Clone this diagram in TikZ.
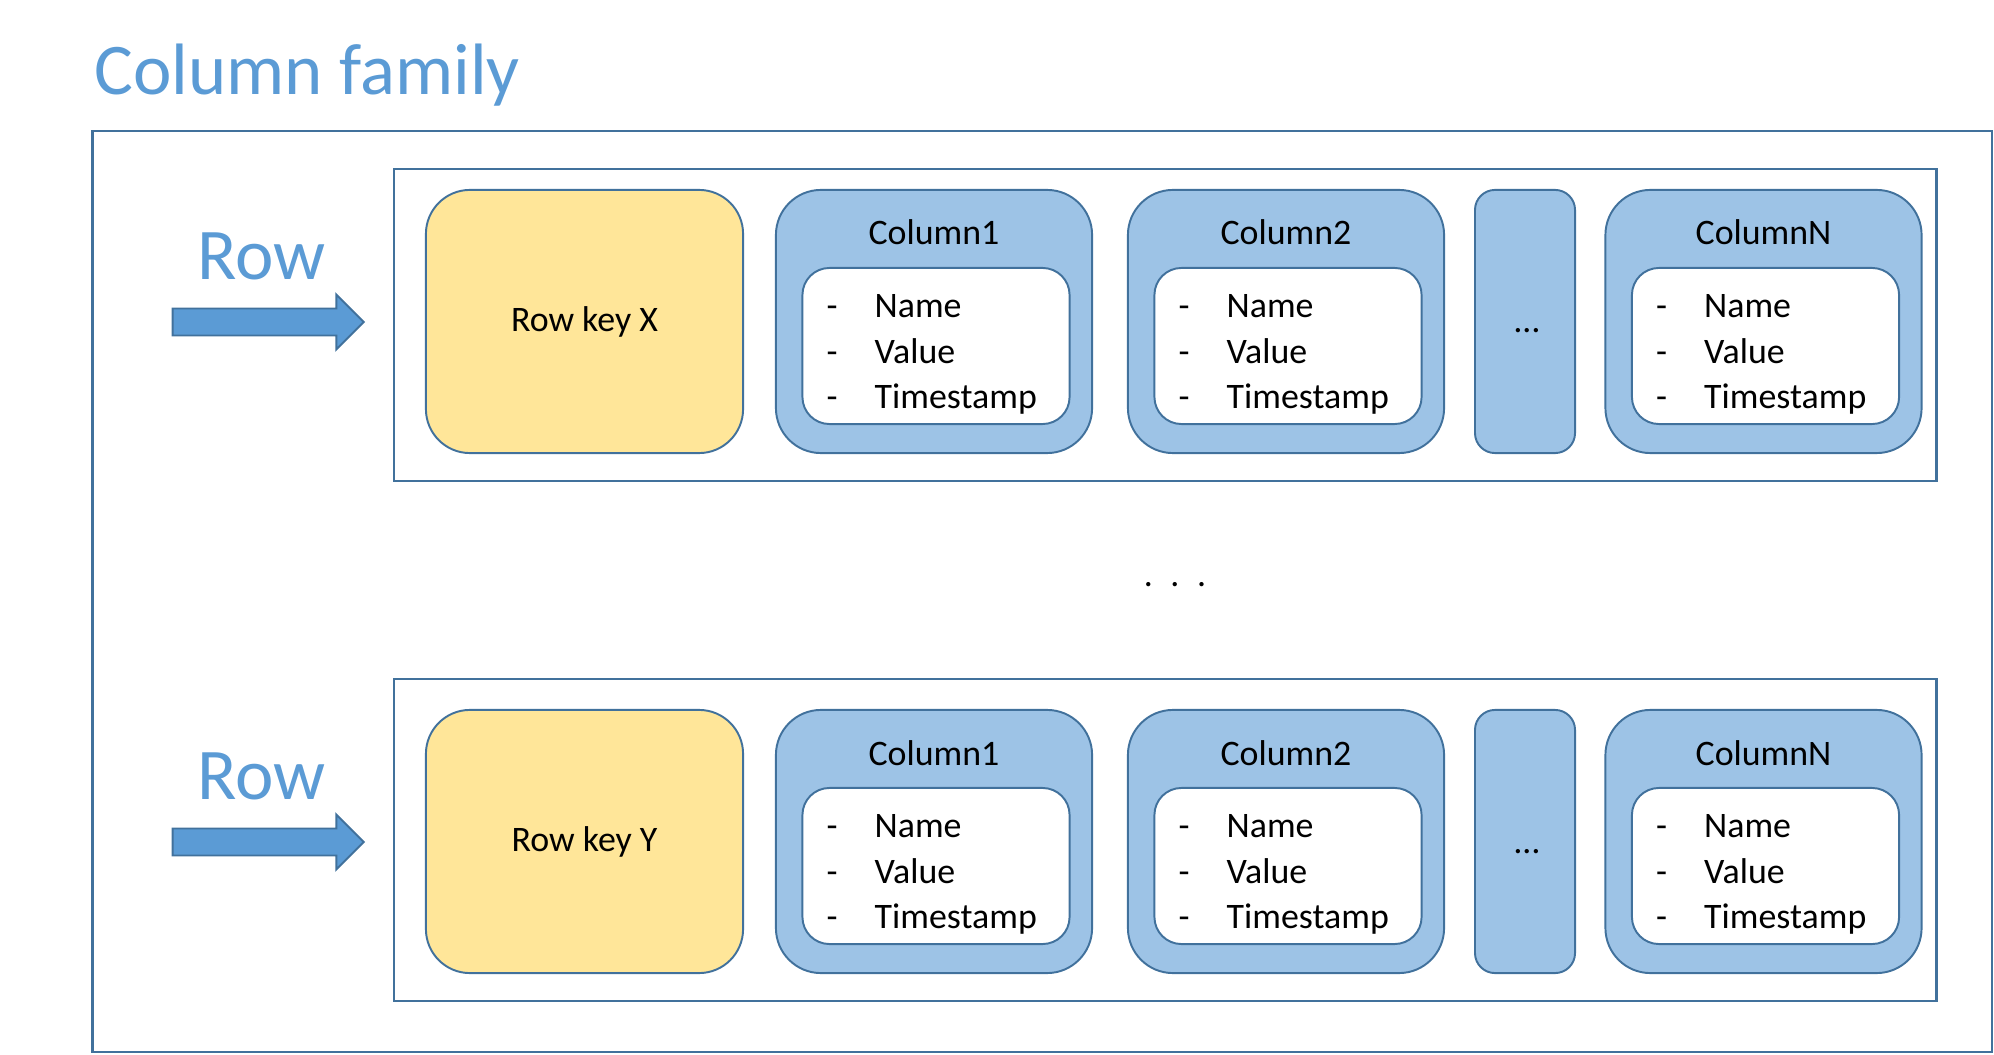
\documentclass[tikz,border=0pt]{standalone}
\usepackage{fontspec}
\setmainfont{Carlito}
\usepackage{tikz}
\usetikzlibrary{positioning,shapes.arrows,calc}

\definecolor{edge}{RGB}{65,113,156}
\definecolor{keyfill}{RGB}{255,230,153}
\definecolor{colfill}{RGB}{157,195,230}
\definecolor{arrfill}{RGB}{91,155,213}
\definecolor{lblblue}{RGB}{91,155,213}

\newcommand{\cellitems}{\makebox[0.48cm][l]{-}Name\\
  \makebox[0.48cm][l]{-}Value\\
  \makebox[0.48cm][l]{-}Timestamp}

\begin{document}
\begin{tikzpicture}[
  x=0.01cm, y=-0.01cm,
  every node/.style={font=\fontsize{10.2}{12.9}\selectfont},
  cfframe/.style  ={draw=edge, line width=0.6pt, minimum width=18.98cm,
                    minimum height=9.21cm, inner sep=0},
  rowframe/.style ={draw=edge, line width=0.6pt, minimum width=15.42cm,
                    inner sep=0},
  keybox/.style   ={draw=edge, line width=0.55pt, fill=keyfill,
                    rounded corners=0.44cm, minimum width=3.17cm,
                    minimum height=2.63cm, inner sep=0},
  colbox/.style   ={draw=edge, line width=0.55pt, fill=colfill,
                    rounded corners=0.45cm, minimum width=3.16cm,
                    minimum height=2.63cm, inner sep=0},
  gapbox/.style   ={draw=edge, line width=0.55pt, fill=colfill,
                    rounded corners=0.2cm, minimum width=1.0cm,
                    minimum height=2.63cm, inner sep=0},
  inbox/.style    ={draw=edge, line width=0.55pt, fill=white,
                    rounded corners=0.27cm, minimum width=2.67cm,
                    minimum height=1.56cm, inner sep=0},
  items/.style    ={align=left, anchor=north west, inner sep=0},
  coltitle/.style ={anchor=base, inner sep=0},
  biglbl/.style   ={font=\fontsize{20.7}{24}\selectfont, text=lblblue,
                    inner sep=0},
  rowarrow/.style ={single arrow, draw=edge, line width=0.55pt,
                    fill=arrfill, inner xsep=0, inner ysep=0.125cm,
                    minimum height=1.91cm,
                    single arrow head extend=0.14cm,
                    single arrow tip angle=90}
]
\useasboundingbox (0,0) rectangle (1994,1055);

\node[biglbl, anchor=base west] (title) at (94,95) {Column family};

% whole family
\node[cfframe] (cf) at (1042,591.5) {};

% the two rows
\foreach \r/\k/\dy/\by/\bh in {1/X/0/325/3.12, 2/Y/520/840/3.22} {
  \node[rowframe, minimum height=\bh cm] (rb\r) at (1165,\by) {};
  \node[keybox] (key\r) at (584.5,321.5+\dy) {Row key \k};

  \node[rowarrow] (arr\r) at (261.5,322+\dy) {};
  \node[biglbl, above=0.27cm of arr\r] (lbl\r) {Row};

  \foreach \c/\cx/\ct in {1/934/Column1, 2/1286/Column2, N/1763.5/ColumnN} {
    \node[colbox] (col\c-\r) at (\cx,321.5+\dy) {};
    \node[coltitle] (ttl\c-\r) at (\cx,245+\dy) {\ct};
    \node[inbox] (in\c-\r) at (\cx+2,346+\dy) {};
    \node[items] (it\c-\r) at (\cx-108,294+\dy) {\cellitems};
  }

  \node[gapbox] (gap\r) at (1525,321.5+\dy) {};
  \node[coltitle] (gapdots\r) at (1527,333+\dy) {\dots};
}

% more rows in between
\node[anchor=base] (more) at (1175,586) {.\hspace{0.175cm}.\hspace{0.175cm}.};

\end{tikzpicture}
\end{document}
